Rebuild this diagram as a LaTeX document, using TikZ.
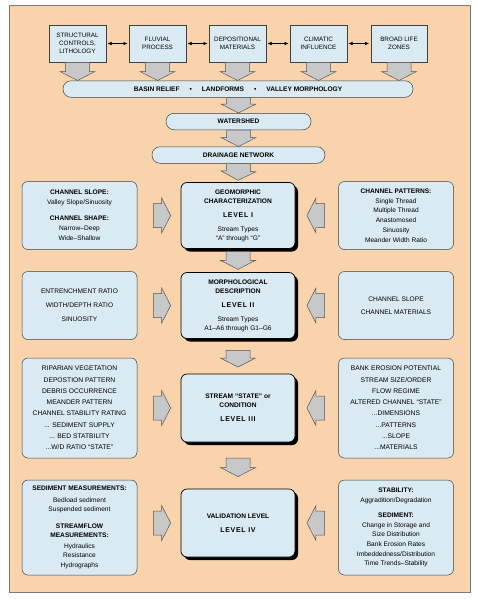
\documentclass[tikz,border=0pt]{standalone}
\usepackage{fontspec}
\setmainfont{Liberation Sans}
\usetikzlibrary{calc,shadows,arrows.meta}

\definecolor{peach}{RGB}{249,211,172}
\definecolor{boxblue}{RGB}{218,234,243}
\definecolor{arrowgray}{RGB}{200,200,200}
\definecolor{arrowline}{RGB}{85,85,85}
\definecolor{frameline}{RGB}{120,120,120}

\newcommand{\lvl}[1]{{\fontsize{7}{9}\selectfont\bfseries\addfontfeature{LetterSpace=10}#1}}

\tikzset{
  topbox/.style={draw=black!75, fill=boxblue, line width=0.5pt, minimum width=56.5pt, minimum height=37pt,
    inner sep=0pt, align=center, font=\fontsize{6.3}{8.3}\selectfont},
  bar/.style={draw=black!75, fill=boxblue, line width=0.5pt, rounded corners=8pt, minimum height=16.5pt,
    inner sep=0pt, font=\fontsize{6.6}{8}\selectfont\bfseries},
  sidebox/.style={draw=black!75, fill=boxblue, line width=0.5pt, rounded corners=6pt, minimum width=115pt,
    inner sep=0pt, align=center},
  levelbox/.style={draw=black, fill=boxblue, line width=0.7pt, rounded corners=6pt, minimum width=114pt,
    inner sep=0pt, align=center, font=\fontsize{6.6}{9}\selectfont,
    drop shadow={shadow xshift=3pt, shadow yshift=-3pt, fill=black, opacity=1}},
  link/.style={line width=0.5pt, {Latex[length=4pt,width=3.5pt]}-{Latex[length=4pt,width=3.5pt]},
    shorten <=1.5pt, shorten >=1.5pt},
  fat/.style 2 args={draw=arrowline, fill=arrowgray, line width=0.5pt,
    to path={let \p1=($(\tikztostart)!#1!(\tikztotarget)$), \p2=($(\tikztostart)!#2!(\tikztotarget)$),
      \p3=($(\p2)!9pt!(\p1)$) in
      ($(\p1)!12pt!90:(\p2)$) -- ($(\p3)!12pt!90:(\p2)$) -- ($(\p3)!17.5pt!90:(\p2)$) -- (\p2)
      -- ($(\p3)!17.5pt!-90:(\p2)$) -- ($(\p3)!12pt!-90:(\p2)$) -- ($(\p1)!12pt!-90:(\p2)$) -- cycle}}
}

\begin{document}
\begin{tikzpicture}[x=1pt, y=-1pt]
\useasboundingbox (0,0) rectangle (477,600);
\fill[white] (0,0) rectangle (477,600);
\draw[frameline, fill=peach, line width=0.6pt] (9,5) rectangle (470,592);

\path (77.5,43.5) node[topbox] (t1) {STRUCTURAL\\CONTROLS,\\LITHOLOGY};
\path (157.5,43.5) node[topbox] (t2) {FLUVIAL\\PROCESS};
\path (237.5,43.5) node[topbox] (t3) {DEPOSITIONAL\\MATERIALS};
\path (318.5,43.5) node[topbox] (t4) {CLIMATIC\\INFLUENCE};
\path (399,43.5) node[topbox] (t5) {BROAD LIFE\\ZONES};
\draw[link] (t1) -- (t2);
\draw[link] (t2) -- (t3);
\draw[link] (t3) -- (t4);
\draw[link] (t4) -- (t5);

\path (238,89) node[bar, minimum width=350pt] (basin)
  {BASIN RELIEF\hspace{10pt}\textbullet\hspace{10pt}LANDFORMS\hspace{10pt}\textbullet\hspace{10pt}VALLEY MORPHOLOGY};
\path (238.5,121.5) node[bar, minimum width=145pt] (water) {WATERSHED};
\path (238.5,155) node[bar, minimum width=173pt] (drain) {DRAINAGE NETWORK};
\draw[fat={0}{1}] (t1.south) to (t1.south |- basin.north);
\draw[fat={0}{1}] (t2.south) to (t2.south |- basin.north);
\draw[fat={0}{1}] (t3.south) to (t3.south |- basin.north);
\draw[fat={0}{1}] (t4.south) to (t4.south |- basin.north);
\draw[fat={0}{1}] (t5.south) to (t5.south |- basin.north);
\draw[fat={0}{1}] (basin.south -| water.north) to (water.north);
\draw[fat={0}{1}] (water.south) to (drain.north);

\path (238,215.5) node[levelbox, minimum height=66pt] (g1)
  {\textbf{GEOMORPHIC}\\\textbf{CHARACTERIZATION}\\[5pt]\lvl{LEVEL I}\\[5pt]Stream Types\\“A” through “G”};
\path (238,305.5) node[levelbox, minimum height=66pt] (g2)
  {\textbf{MORPHOLOGICAL}\\\textbf{DESCRIPTION}\\[5pt]\lvl{LEVEL II}\\[5pt]Stream Types\\A1--A6 through G1--G6};
\path (238,408) node[levelbox, minimum height=68pt] (g3)
  {\textbf{STREAM “STATE” or}\\\textbf{CONDITION}\\[5pt]\lvl{LEVEL III}};
\path (238,523) node[levelbox, minimum height=68pt] (g4)
  {\textbf{VALIDATION LEVEL}\\[5pt]\lvl{LEVEL IV}};
\draw[fat={0}{0.9}] (drain.south) to (g1.north);
\draw[fat={0.12}{0.88}] (g1.south) to (g2.north);
\draw[fat={0.33}{0.81}] (g2.south) to (g3.north);
\draw[fat={0.34}{0.74}] (g3.south) to (g4.north);

\path (79.5,215.5) node[sidebox, minimum height=68pt, font=\fontsize{6.6}{10}\selectfont] (l1)
  {\textbf{CHANNEL SLOPE:}\\Valley Slope/Sinuosity\\[6pt]\textbf{CHANNEL SHAPE:}\\Narrow--Deep\\Wide--Shallow};
\path (79.5,305.5) node[sidebox, minimum height=68pt, font=\fontsize{6.6}{14}\selectfont] (l2)
  {ENTRENCHMENT RATIO\\WIDTH/DEPTH RATIO\\SINUOSITY};
\path (79.5,408) node[sidebox, minimum height=100pt, font=\fontsize{6.7}{11.3}\selectfont] (l3)
  {RIPARIAN VEGETATION\\DEPOSTION PATTERN\\DEBRIS OCCURRENCE\\MEANDER PATTERN\\CHANNEL STABILITY RATING\\
   ... SEDIMENT SUPPLY\\... BED STATBILITY\\...W/D RATIO “STATE”};
\path (79.5,527.5) node[sidebox, minimum height=95pt, font=\fontsize{6.6}{9.5}\selectfont] (l4)
  {\textbf{SEDIMENT MEASUREMENTS:}\\[2pt]Bedload sediment\\Suspended sediment\\[7pt]\textbf{STREAMFLOW}\\
   \textbf{MEASUREMENTS:}\\[1pt]Hydraulics\\Resistance\\Hydrographs};

\path (396,215.5) node[sidebox, minimum height=68pt, font=\fontsize{6.6}{9.8}\selectfont] (r1)
  {\textbf{CHANNEL PATTERNS:}\\Single Thread\\Multiple Thread\\Anastomosed\\Sinuosity\\Meander Width Ratio};
\path (396,305.5) node[sidebox, minimum height=68pt, font=\fontsize{6.6}{13}\selectfont] (r2)
  {CHANNEL SLOPE\\CHANNEL MATERIALS};
\path (396,408) node[sidebox, minimum height=100pt, font=\fontsize{6.7}{11.3}\selectfont] (r3)
  {BANK EROSION POTENTIAL\\STREAM SIZE/ORDER\\FLOW REGIME\\ALTERED CHANNEL “STATE”\\...DIMENSIONS\\
   ...PATTERNS\\...SLOPE\\...MATERIALS};
\path (396,527.5) node[sidebox, minimum height=95pt, font=\fontsize{6.6}{9.6}\selectfont] (r4)
  {\textbf{STABILITY:}\\Aggradition/Degradation\\[6pt]\textbf{SEDIMENT:}\\Change in Storage and\\Size Distribution\\
   Bank Erosion Rates\\Imbeddedness/Distribution\\Time Trends--Stability};

\draw[fat={0.37}{0.77}] (l1.east |- g1.west) to (g1.west);
\draw[fat={0.37}{0.77}] (l2.east |- g2.west) to (g2.west);
\draw[fat={0.37}{0.77}] (l3.east |- g3.west) to (g3.west);
\draw[fat={0.37}{0.77}] (l4.east |- g4.west) to (g4.west);
\draw[fat={0.32}{0.73}] (r1.west |- g1.east) to (g1.east);
\draw[fat={0.32}{0.73}] (r2.west |- g2.east) to (g2.east);
\draw[fat={0.32}{0.73}] (r3.west |- g3.east) to (g3.east);
\draw[fat={0.32}{0.73}] (r4.west |- g4.east) to (g4.east);
\end{tikzpicture}
\end{document}
